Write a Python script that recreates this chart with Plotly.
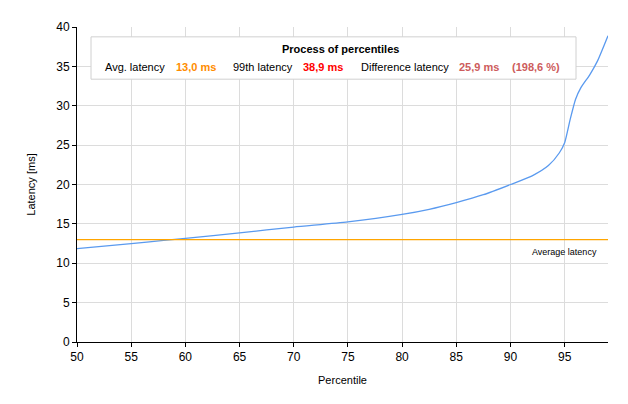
import plotly.graph_objects as go

# percentile curve
percentiles = [50, 55, 58, 60, 65, 70, 75, 80, 82.5, 85, 87.5, 90, 92, 93.5, 94.5, 95, 95.5, 96, 96.5, 97.3, 98, 99]
latency = [11.85, 12.5, 12.9, 13.15, 13.85, 14.6, 15.25, 16.2, 16.85, 17.7, 18.7, 20.0, 21.1, 22.4, 24.0, 25.3, 28.2, 30.8, 32.3, 33.9, 35.6, 38.9]
avg_latency = 13.0
x_ticks = [50, 55, 60, 65, 70, 75, 80, 85, 90, 95]

# page has an 8px body margin, so the figure is shrunk by that much
OFF = 8
W, H = 628 - OFF, 404 - OFF
L, R, T, B = 77 - OFF, 20, 22 - OFF, 62
pw, ph = W - L - R, H - T - B


def px(x):
    # page pixel x -> paper coord
    return (x - OFF - L) / pw


def py(y):
    return (H - B - (y - OFF)) / ph


fig = go.Figure()
fig.add_trace(go.Scatter(
    x=percentiles, y=latency, mode='lines',
    line=dict(color='#5A9AEF', width=1.3, shape='spline', smoothing=0.6),
    showlegend=False, hoverinfo='x+y',
))
fig.add_trace(go.Scatter(
    x=[50, 99], y=[avg_latency, avg_latency], mode='lines',
    line=dict(color='#FFA500', width=1.2), showlegend=False,
))

font = 'Liberation Sans, Arial, sans-serif'

# info box
fig.add_shape(type='rect', xref='paper', yref='paper',
              x0=px(91), x1=px(576), y0=py(75), y1=py(32),
              fillcolor='white', line=dict(color='#d0d0d0', width=1), layer='above')

ann = [
    ('<b>Process of percentiles</b>', 340, 44, 'black', 'center'),
    ('Avg. latency', 103, 63, 'black', 'left'),
    ('<b>13,0 ms</b>', 174, 63, '#FF8C00', 'left'),
    ('99th latency', 231, 63, 'black', 'left'),
    ('<b>38,9 ms</b>', 301, 63, '#FF0000', 'left'),
    ('Difference latency', 359, 63, 'black', 'left'),
    ('<b>25,9 ms</b>', 457, 63, '#CD5C5C', 'left'),
    ('<b>(198,6 %)</b>', 510, 63, '#CD5C5C', 'left'),
]
for text, x, y, col, anchor in ann:
    fig.add_annotation(text=text, xref='paper', yref='paper', x=px(x), y=py(y),
                       xanchor=anchor, yanchor='middle', showarrow=False,
                       font=dict(family=font, size=11, color=col))

fig.add_annotation(text='Average latency', xref='paper', yref='paper',
                   x=px(599), y=py(251), xanchor='right', yanchor='middle',
                   showarrow=False, font=dict(family=font, size=9, color='black'))

fig.update_layout(
    width=W, height=H,
    margin=dict(l=L, r=R, t=T, b=B),
    paper_bgcolor='white', plot_bgcolor='white',
    font=dict(family=font, size=12, color='black'),
    xaxis=dict(
        range=[50, 99], tickvals=x_ticks, showgrid=True, gridcolor='#dcdcdc',
        showline=True, linecolor='black', linewidth=1, ticks='outside',
        ticklen=4, tickcolor='black', zeroline=False,
        title=dict(text='Percentile', font=dict(size=11), standoff=12),
    ),
    yaxis=dict(
        range=[0, 40], dtick=5, showgrid=True, gridcolor='#dcdcdc',
        showline=True, linecolor='black', linewidth=1, ticks='outside',
        ticklen=4, tickcolor='black', zeroline=False,
        title=dict(text='Latency [ms]', font=dict(size=11), standoff=18),
    ),
)

fig.write_html('out.html')
